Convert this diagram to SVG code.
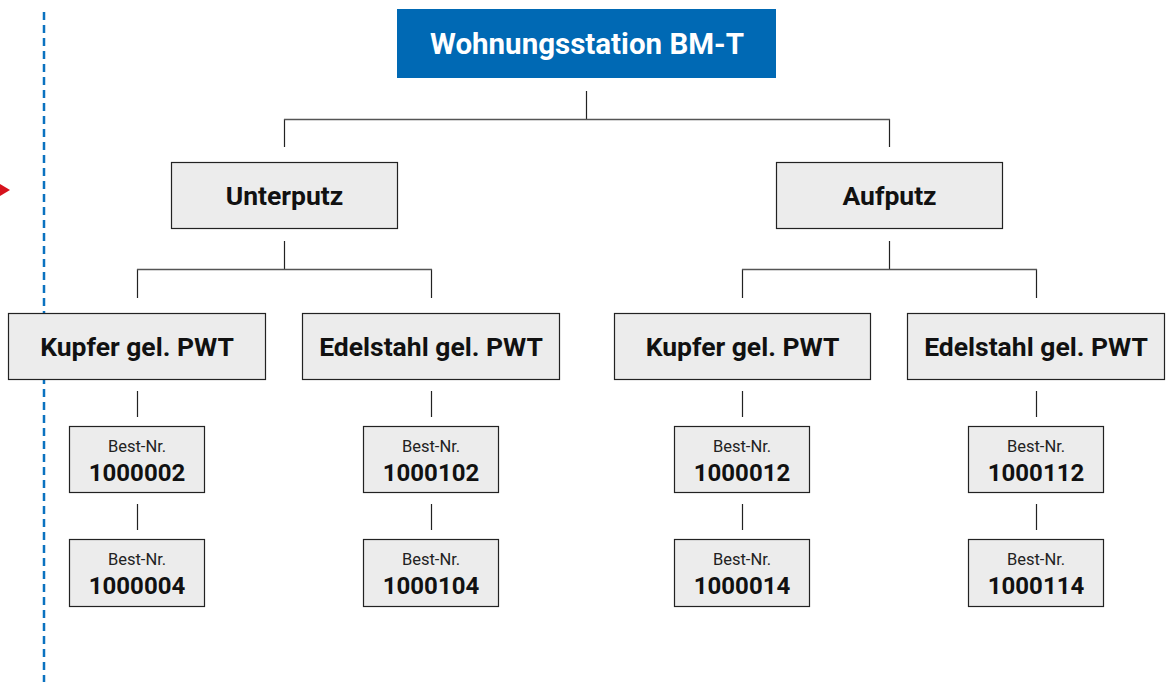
<svg xmlns="http://www.w3.org/2000/svg" width="1168" height="682" viewBox="0 0 1168 682">
<style>
.box{fill:#ececec;stroke:#222;stroke-width:1.2}
.lbl{font-family:Roboto,"Liberation Sans",sans-serif;font-weight:700;font-size:26.5px;fill:#111;text-anchor:middle}
.sm{font-family:Roboto,"Liberation Sans",sans-serif;font-size:16.5px;fill:#222;text-anchor:middle}
.num{font-family:Roboto,"Liberation Sans",sans-serif;font-weight:700;font-size:24px;fill:#111;text-anchor:middle}
.ln{stroke:#222;stroke-width:1.2;fill:none}
.hl{stroke:#555;stroke-width:1.6;fill:none}
</style>
<rect width="1168" height="682" fill="#fff"/>
<g id="deco">
<line x1="44" y1="12" x2="44" y2="682" stroke="#0a72c0" stroke-width="2.5" stroke-dasharray="8,5"/>
<polygon points="0,184 10,190 0,196" fill="#d6121c"/>
</g>
<g id="connectors">
<path class="ln" d="M586.5 91V119M284.5 119V147M889.5 119V147"/>
<path class="hl" d="M284 119.5H890"/>
<path class="ln" d="M284.5 241V269M137.5 269V298M431.5 269V298"/>
<path class="hl" d="M137 269.5H432"/>
<path class="ln" d="M889.5 241V269M742.5 269V298M1036.5 269V298"/>
<path class="hl" d="M742 269.5H1037"/>
<path class="ln" d="M137.5 391V417M137.5 504V530M431.5 391V417M431.5 504V530M742.5 391V417M742.5 504V530M1036.5 391V417M1036.5 504V530"/>
</g>
<g id="root">
<rect x="397" y="9" width="379" height="69" fill="#0069b4"/>
<text x="587" y="54" class="lbl" style="fill:#fff;font-size:29.5px">Wohnungsstation BM-T</text>
</g>
<g id="unterputz">
<rect class="box" x="171.5" y="162.5" width="226" height="66"/>
<text x="284.5" y="205" class="lbl">Unterputz</text>
</g>
<g id="aufputz">
<rect class="box" x="776.5" y="162.5" width="226" height="66"/>
<text x="889.5" y="205" class="lbl">Aufputz</text>
</g>
<g id="up-kupfer">
<rect class="box" x="8.5" y="313.5" width="257" height="66"/>
<text x="137" y="356" class="lbl">Kupfer gel. PWT</text>
</g>
<g id="up-edelstahl">
<rect class="box" x="302.5" y="313.5" width="257" height="66"/>
<text x="431" y="356" class="lbl">Edelstahl gel. PWT</text>
</g>
<g id="ap-kupfer">
<rect class="box" x="614.5" y="313.5" width="256" height="66"/>
<text x="742.5" y="356" class="lbl">Kupfer gel. PWT</text>
</g>
<g id="ap-edelstahl">
<rect class="box" x="907.5" y="313.5" width="257" height="66"/>
<text x="1036" y="356" class="lbl">Edelstahl gel. PWT</text>
</g>
<g id="n1000002">
<rect class="box" x="69.5" y="426.5" width="135" height="66"/>
<text x="137" y="452" class="sm">Best-Nr.</text>
<text x="137" y="481" class="num">1000002</text>
</g>
<g id="n1000004">
<rect class="box" x="69.5" y="539.5" width="135" height="67"/>
<text x="137" y="565" class="sm">Best-Nr.</text>
<text x="137" y="594" class="num">1000004</text>
</g>
<g id="n1000102">
<rect class="box" x="363.5" y="426.5" width="135" height="66"/>
<text x="431" y="452" class="sm">Best-Nr.</text>
<text x="431" y="481" class="num">1000102</text>
</g>
<g id="n1000104">
<rect class="box" x="363.5" y="539.5" width="135" height="67"/>
<text x="431" y="565" class="sm">Best-Nr.</text>
<text x="431" y="594" class="num">1000104</text>
</g>
<g id="n1000012">
<rect class="box" x="674.5" y="426.5" width="135" height="66"/>
<text x="742" y="452" class="sm">Best-Nr.</text>
<text x="742" y="481" class="num">1000012</text>
</g>
<g id="n1000014">
<rect class="box" x="674.5" y="539.5" width="135" height="67"/>
<text x="742" y="565" class="sm">Best-Nr.</text>
<text x="742" y="594" class="num">1000014</text>
</g>
<g id="n1000112">
<rect class="box" x="968.5" y="426.5" width="135" height="66"/>
<text x="1036" y="452" class="sm">Best-Nr.</text>
<text x="1036" y="481" class="num">1000112</text>
</g>
<g id="n1000114">
<rect class="box" x="968.5" y="539.5" width="135" height="67"/>
<text x="1036" y="565" class="sm">Best-Nr.</text>
<text x="1036" y="594" class="num">1000114</text>
</g>
</svg>
